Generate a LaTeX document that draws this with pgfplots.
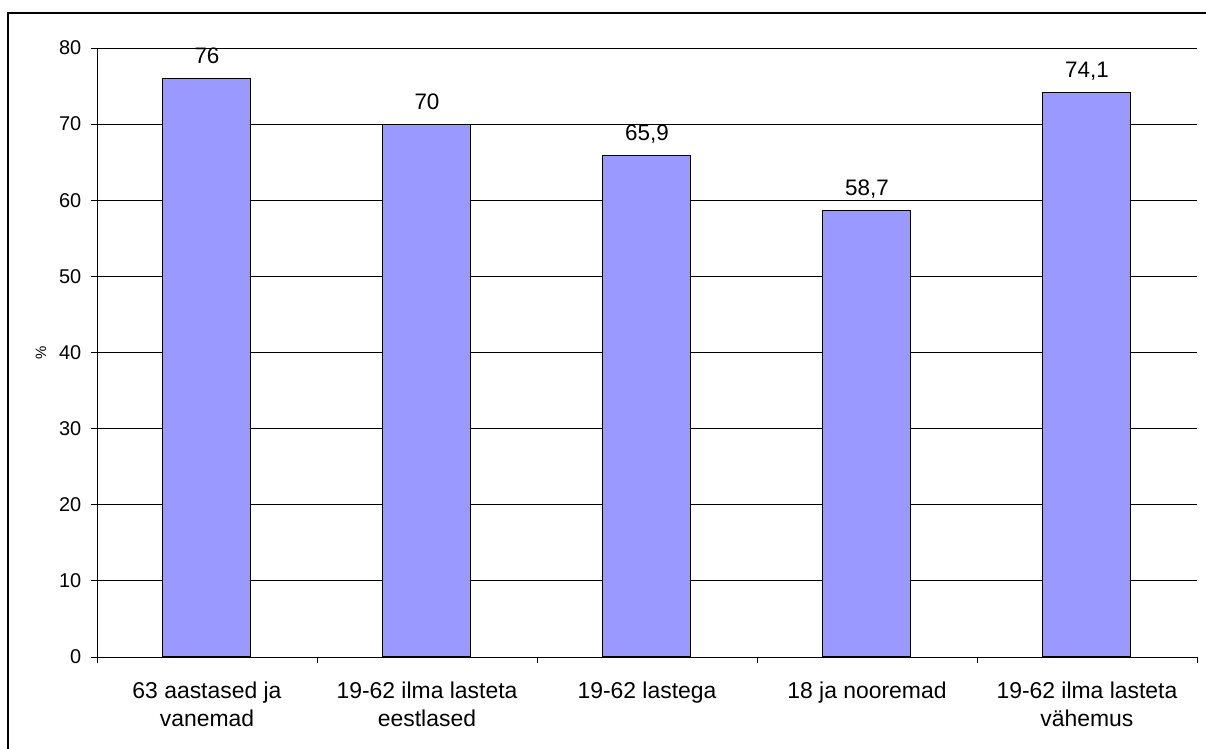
\documentclass[border=0pt]{standalone}
\usepackage{fontspec}
\setmainfont{Liberation Sans}
\usepackage{pgfplots}
\pgfplotsset{compat=1.18}
\definecolor{barblue}{RGB}{153,153,255}
\begin{document}
\begin{tikzpicture}[x=1bp,y=1bp]
\useasboundingbox (0,0) rectangle (1206,749);
\draw[line width=2bp] (8.3,-20) -- (8.3,735.7) -- (1230,735.7);
\begin{axis}[
  at={(97bp,92bp)}, anchor=south west,
  width=1100bp, height=609bp, scale only axis,
  xmin=-0.5, xmax=4.5, ymin=0, ymax=80,
  ytick={0,10,...,80},
  xtick={0,...,4},
  xticklabels={{63 aastased ja\\vanemad},{19-62 ilma lasteta\\eestlased},{19-62 lastega},{18 ja nooremad},{19-62 ilma lasteta\\vähemus}},
  minor xtick={-0.5,0.5,...,4.5},
  major x tick style={draw=none},
  tick align=outside,
  major tick length=6bp, minor tick length=6bp,
  axis x line*=bottom, axis y line*=left,
  axis line style={black, line width=0.8bp},
  tick style={black, line width=0.8bp},
  ymajorgrids, grid style={black, line width=0.8bp},
  yticklabel={\pgfmathprintnumber[assume math mode=true]{\tick}},
  yticklabel style={font=\fontsize{20}{24}\selectfont, inner sep=0pt, anchor=east, xshift=-9.5bp, black},
  xticklabel style={font=\fontsize{23}{28}\selectfont, align=center, inner sep=0pt, anchor=north, yshift=-19bp},
  ylabel={\%},
  ylabel style={at={(axis description cs:-0.051,0.5)}, anchor=center, font=\fontsize{15}{18}\selectfont},
  clip=false,
]
\addplot[ybar, bar width=88bp, bar shift=0pt, fill=barblue, draw=black, line width=1bp,
  nodes near coords, point meta=explicit symbolic,
  every node near coord/.append style={font=\fontsize{22.5}{26}\selectfont, inner sep=0pt, anchor=south, text depth=0pt, yshift=14.5bp, black}]
  coordinates {(0,76) [76] (1,70) [70] (2,65.9) [{65,9}] (3,58.7) [{58,7}] (4,74.1) [{74,1}]};
\end{axis}
\end{tikzpicture}
\end{document}
